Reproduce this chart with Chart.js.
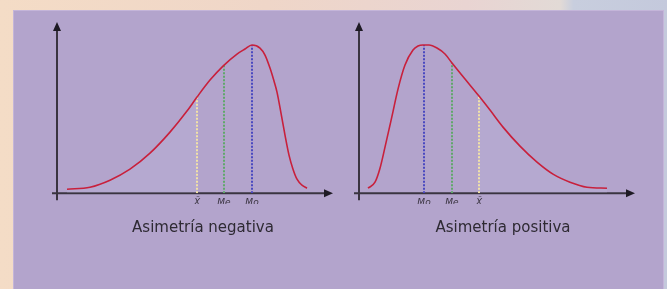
<!DOCTYPE html>
<html>
<head>
<meta charset="utf-8">
<script src="https://cdn.jsdelivr.net/npm/chart.js@4.4.1/dist/chart.umd.min.js"></script>
<style>
  html, body { margin: 0; padding: 0; }
  body {
    width: 667px; height: 289px; overflow: hidden; position: relative;
    background: linear-gradient(90deg, #f4dcc6 0%, #efd6c8 40%, #e9d4d2 70%, #e2dad6 84%, #c8cede 86%, #c4c9dc 100%);
  }
  #panel {
    position: absolute; left: 13px; top: 10px; width: 649px; height: 290px;
    background: #b3a4cc; border: 1px solid #c4b5d9;
  }
  .wrap { position: absolute; top: 0; height: 289px; }
  #w1 { left: 0; width: 360px; }
  #w2 { left: 330px; width: 337px; }
</style>
</head>
<body>
<div id="panel"></div>
<div class="wrap" id="w1"><canvas id="neg"></canvas></div>
<div class="wrap" id="w2"><canvas id="pos"></canvas></div>
<script>
// curve, x / y in pixels from the axes origin
const negX = [10, 33, 53, 73, 93, 113, 130, 140, 153, 166, 180, 188, 195, 203, 208, 213, 217, 220, 224, 228, 232, 236, 240, 245, 250];
const negY = [4, 6, 13, 24, 40, 61, 82, 96, 113, 127, 139, 144, 148, 145, 138, 125, 112, 101, 80, 58, 38, 24, 14, 8, 5];
const posX = [9, 16, 21, 26, 33, 39, 46, 54, 59, 64, 70, 78, 86, 93, 106, 120, 131, 144, 161, 178, 194, 211, 228, 248];
const posY = [5, 11, 25, 46, 77, 104, 128, 143, 147, 148, 148, 145, 139, 130, 114, 97, 83, 66, 47, 31, 19, 11, 6, 5];

// mean, Me and Mo positions and the heights their dotted lines reach
const markLabels = ['X\u0304', 'Me', 'Mo'];
const negMarks = [140, 167, 195];
const negMarkTops = [96, 128, 148];
const posMarks = [120, 93, 65];
const posMarkTops = [97, 130, 148];
const markColors = ['#f2e2a6', '#5fa86a', '#4a48c0'];

const axisEnd = 276;

const arrows = {
  id: 'arrows',
  beforeDatasetsDraw(chart) {
    const { ctx, scales: { x, y } } = chart;
    const x0 = x.getPixelForValue(0), y0 = y.getPixelForValue(0);
    const xEnd = x.getPixelForValue(axisEnd), yEnd = y.getPixelForValue(171);
    ctx.save();
    ctx.strokeStyle = '#3a3440';
    ctx.fillStyle = '#1e1a24';
    ctx.lineWidth = 2;
    ctx.beginPath();
    ctx.moveTo(x0 - 5, y0); ctx.lineTo(xEnd - 6, y0);
    ctx.moveTo(x0, y0 + 7); ctx.lineTo(x0, yEnd + 6);
    ctx.stroke();
    ctx.beginPath();
    ctx.moveTo(xEnd, y0); ctx.lineTo(xEnd - 9, y0 - 4); ctx.lineTo(xEnd - 9, y0 + 4); ctx.closePath();
    ctx.moveTo(x0, yEnd); ctx.lineTo(x0 - 4, yEnd + 9); ctx.lineTo(x0 + 4, yEnd + 9); ctx.closePath();
    ctx.fill();
    ctx.restore();
  }
};

function makeChart(id, xs, ys, marks, tops, title, xMax, pad, tailSide) {
  const curve = xs.map((v, i) => ({ x: v, y: ys[i] }));
  const tail = curve.filter(p => tailSide < 0 ? p.x < marks[0] : p.x > marks[0]);
  tail[tailSide < 0 ? 'push' : 'unshift']({ x: marks[0], y: tops[0] });
  const lines = marks.map((m, i) => ({
    data: [{ x: m, y: 0 }, { x: m, y: tops[i] }],
    borderColor: markColors[i], borderWidth: 2, borderDash: [2, 1.5],
    pointRadius: 0, showLine: true
  }));
  new Chart(document.getElementById(id), {
    type: 'scatter',
    data: {
      datasets: [
        { data: curve, borderColor: '#c8203c', borderWidth: 1.6, pointRadius: 0,
          showLine: true, cubicInterpolationMode: 'monotone' },
        ...lines,
        { data: tail, borderColor: 'rgba(0,0,0,0)', backgroundColor: 'rgba(200,205,240,0.13)',
          fill: 'origin', pointRadius: 0, showLine: true, cubicInterpolationMode: 'monotone' }
      ]
    },
    options: {
      responsive: true, maintainAspectRatio: false, animation: false,
      layout: { padding: pad },
      plugins: {
        legend: { display: false }, tooltip: { enabled: false },
        title: { display: true, position: 'bottom', text: title, color: '#2e2a33',
          font: { family: 'DejaVu Sans', size: 15, weight: 'normal' }, padding: { top: 15, bottom: 0 } }
      },
      scales: {
        x: { type: 'linear', min: 0, max: xMax,
          grid: { display: false }, border: { display: false },
          afterBuildTicks: s => { s.ticks = marks.map(v => ({ value: v })); },
          ticks: { autoSkip: false, maxRotation: 0, padding: -4, color: '#3a3440',
            font: { family: 'DejaVu Sans', size: 9, style: 'italic' },
            callback: v => markLabels[marks.indexOf(v)] } },
        y: { display: false, min: 0, max: 171 }
      }
    },
    plugins: [arrows]
  });
}

makeChart('neg', negX, negY, negMarks, negMarkTops, 'Asimetría negativa', 292,
  { left: 57, right: 11, top: 22, bottom: 52 }, -1);
makeChart('pos', posX, posY, posMarks, posMarkTops, 'Asimetría positiva', 288,
  { left: 29, right: 20, top: 22, bottom: 52 }, 1);
</script>
</body>
</html>
